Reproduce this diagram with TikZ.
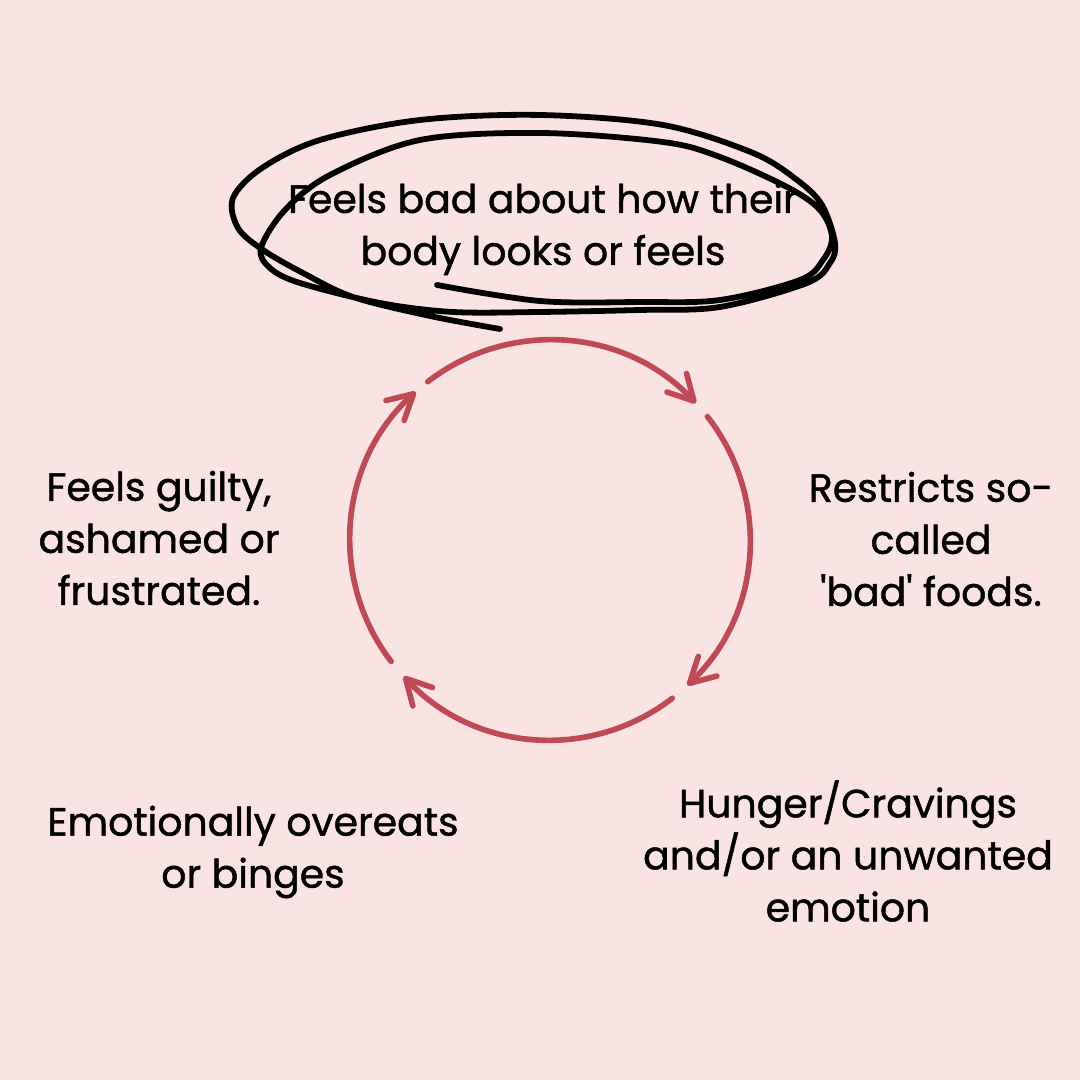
\documentclass[tikz,border=0pt]{standalone}
\usepackage{fontspec}
\setmainfont{Poppins}[FakeBold=1.2]
\usetikzlibrary{arrows.meta}
\usetikzlibrary{calc}
\usetikzlibrary{math}
\definecolor{blush}{HTML}{FAE4E3}
\definecolor{cyclered}{HTML}{BF4A55}

\begin{document}
\begin{tikzpicture}
\tikzset{
    stage/.style={align=center, inner sep=0pt, text=black, font=\fontsize{11.2}{14.8}\selectfont},
    cyclearrow/.style={cyclered, line width=1.6pt, line cap=round,
        -{Straight Barb[length=2.5mm, width=2.7mm, line cap=round, line join=round]}},
    scribble/.style={black, line width=1.65pt, line cap=round, line join=round},
    }
\fill[blush] (0,0) rectangle (10.8,10.8);
\useasboundingbox (0,0) rectangle (10.8,10.8);

% Text of each stage
\node[stage] (feelsbad) at (5.43,8.51) {Feels bad about how their\\body looks or feels};
\node[stage] (restricts) at (9.31,5.41) {Restricts so-\\called\\\textquotesingle bad\textquotesingle{} foods.};
\node[stage] (hunger) at (8.48,2.29) {Hunger/Cravings\\and/or an unwanted\\emotion};
\node[stage] (overeats) at (2.53,2.28) {Emotionally overeats\\or binges};
\node[stage] (guilty) at (1.59,5.42) {Feels guilty,\\ashamed or\\frustrated.};

% Loop drawn round the first stage
\draw[scribble] plot[smooth, tension=0.55] coordinates {
    (4.37,7.95) (5.40,7.79) (6.40,7.78) (7.20,7.80) (8.00,8.00) (8.23,8.20)
    (8.32,8.43) (8.20,8.70) (7.87,8.93) (7.20,9.23) (6.63,9.38) (5.40,9.47)
    (4.20,9.40) (3.30,9.05) (2.85,8.70) (2.61,8.32) (2.70,8.12) (3.00,7.97)
    (3.80,7.77) (4.53,7.68) (5.40,7.68) (6.40,7.70) (7.20,7.73) (8.07,7.97)
    (8.30,8.17) (8.35,8.37) (8.22,8.75) (7.97,9.00) (7.53,9.27) (6.63,9.55)
    (5.40,9.65) (4.20,9.60) (3.20,9.40) (2.62,9.12) (2.33,8.82) (2.38,8.52)
    (2.63,8.30) (3.03,8.07) (3.53,7.83) (4.30,7.64) (5.00,7.51)};

% Radius of the cycle
\tikzmath{
    \radius = 2.0;
}
\coordinate (hub) at (5.5,5.4);

% Draws the four arcs of the cycle
\foreach \s/\e in {127.7/43.2, 38.1/-46.6, -52.3/-137, -142.6/-227.8}{
    \draw[cyclearrow] ($(hub)+(\s:\radius)$) arc[start angle=\s, end angle=\e, radius=\radius];
}

\end{tikzpicture}
\end{document}
